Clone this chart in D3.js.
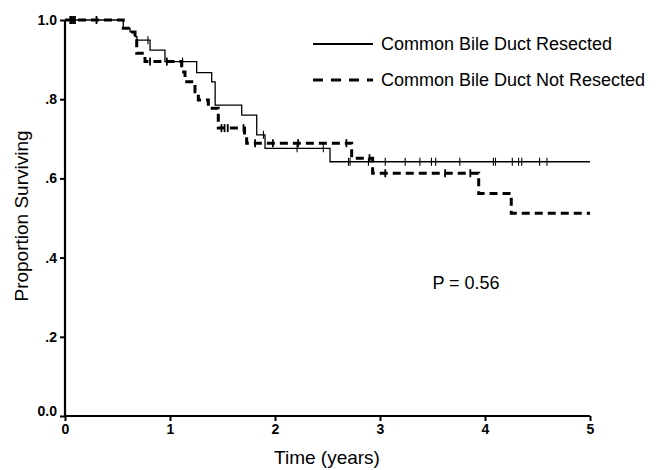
<!DOCTYPE html>
<html>
<head>
<meta charset="utf-8">
<script src="https://cdn.jsdelivr.net/npm/d3@7"></script>
<style>
  html, body { margin: 0; padding: 0; background: #fff; }
  svg { display: block; font-family: "Liberation Sans", Arial, sans-serif; }
</style>
</head>
<body>
<svg id="chart" width="670" height="470"></svg>
<script>
// Kaplan-Meier step data: time (years) at which survival changes, and the new value
const resectedTimes = [0, 0.555, 0.62, 0.667, 0.685, 0.81, 0.952, 1.254, 1.397, 1.43, 1.683, 1.826, 1.905, 2.524, 5.0];
const resectedSurv  = [1.0, 0.979, 0.970, 0.958, 0.949, 0.924, 0.895, 0.867, 0.844, 0.785, 0.760, 0.710, 0.676, 0.642, 0.642];
const resectedCensored = [0.06, 0.08, 0.79, 1.12, 1.89, 2.21, 2.46, 2.70, 2.715, 2.89, 3.05, 3.24, 3.38, 3.49, 3.53, 3.76, 4.08, 4.10, 4.26, 4.32, 4.35, 4.52, 4.59];

const notResectedTimes = [0, 0.555, 0.62, 0.667, 0.683, 0.762, 1.111, 1.143, 1.238, 1.27, 1.365, 1.46, 1.71, 1.73, 2.73, 2.93, 3.94, 4.25, 5.0];
const notResectedSurv  = [1.0, 0.979, 0.970, 0.958, 0.916, 0.895, 0.869, 0.844, 0.819, 0.798, 0.777, 0.727, 0.705, 0.689, 0.651, 0.613, 0.562, 0.512, 0.512];
const notResectedCensored = [0.05, 0.065, 0.08, 0.095, 0.3, 0.81, 0.97, 1.49, 1.52, 1.55, 1.70, 1.81, 1.98, 2.22, 2.68, 2.90, 3.05, 3.62, 3.86];

const xTicks = [0, 1, 2, 3, 4, 5];
const yTicks = [0, 0.2, 0.4, 0.6, 0.8, 1.0];
const yTickLabels = ["0.0", ".2", ".4", ".6", ".8", "1.0"];
const seriesNames = ["Common Bile Duct Resected", "Common Bile Duct Not Resected"];
const pValueText = "P = 0.56";

const svg = d3.select("#chart");
const x = d3.scaleLinear().domain([0, 5]).range([65, 590]);
const y = d3.scaleLinear().domain([0, 1]).range([416, 20]);

// survival value in effect at time t
function survAt(times, surv, t) {
  let v = surv[0];
  for (let i = 0; i < times.length; i++) if (times[i] <= t) v = surv[i];
  return v;
}

const line = d3.line().x(d => x(d[0])).y(d => y(d[1])).curve(d3.curveStepAfter);

const series = [
  { times: resectedTimes, surv: resectedSurv, cens: resectedCensored, width: 1.3, dash: null, legendDash: null, tickW: 1.1 },
  { times: notResectedTimes, surv: notResectedSurv, cens: notResectedCensored, width: 3, dash: "8,5", legendDash: "10,8", tickW: 1.8 }
];

// dashed series first so the thin line stays visible on top
series.slice().reverse().forEach(s => {
  const pts = s.times.map((t, i) => [t, s.surv[i]]);
  svg.append("path")
    .attr("d", line(pts))
    .attr("fill", "none")
    .attr("stroke", "#000")
    .attr("stroke-width", s.width)
    .attr("stroke-dasharray", s.dash);
  svg.append("g").selectAll("line")
    .data(s.cens)
    .join("line")
    .attr("x1", d => x(d)).attr("x2", d => x(d))
    .attr("y1", d => y(survAt(s.times, s.surv, d)) - 4)
    .attr("y2", d => y(survAt(s.times, s.surv, d)) + 4)
    .attr("stroke", "#000")
    .attr("stroke-width", s.tickW);
});

// axes
const yAxis = svg.append("g")
  .attr("transform", `translate(${x(0)},0)`)
  .call(d3.axisLeft(y).tickValues(yTicks).tickSize(5).tickPadding(3)
    .tickFormat((d, i) => yTickLabels[i]));
const xAxis = svg.append("g")
  .attr("transform", `translate(0,${y(0)})`)
  .call(d3.axisBottom(x).tickValues(xTicks).tickSize(5).tickPadding(3).tickFormat(d3.format("d")));

[yAxis, xAxis].forEach(g => {
  g.select(".domain").attr("stroke", "#000").attr("stroke-width", 2.2)
    .attr("d", g === yAxis ? `M0,${y(1)}V${y(0)}` : `M${x(0)},0H${x(5)}`);
  g.selectAll(".tick line").attr("stroke", "#000").attr("stroke-width", 2);
  g.selectAll(".tick text")
    .attr("fill", "#000")
    .style("font-family", "'Liberation Sans', Arial, sans-serif")
    .style("font-weight", "bold")
    .style("font-size", "14px");
});
// the origin label sits just above the x axis line
yAxis.selectAll(".tick").filter(d => d === 0).select("text").attr("y", -5);

// axis titles
svg.append("text")
  .attr("x", 327).attr("y", 464)
  .attr("text-anchor", "middle")
  .style("font-size", "19px")
  .text("Time (years)");
svg.append("text")
  .attr("transform", "translate(28,216) rotate(-90)")
  .attr("text-anchor", "middle")
  .style("font-size", "19px")
  .text("Proportion Surviving");

// legend
const legend = svg.append("g");
series.forEach((s, i) => {
  const ly = 44 + i * 36;
  legend.append("line")
    .attr("x1", 313).attr("x2", 373)
    .attr("y1", ly).attr("y2", ly)
    .attr("stroke", "#000")
    .attr("stroke-width", i === 0 ? 2 : 3.2)
    .attr("stroke-dasharray", s.legendDash);
  legend.append("text")
    .attr("x", 381).attr("y", ly + 6)
    .style("font-size", "18px")
    .text(seriesNames[i]);
});

// p-value annotation
svg.append("text")
  .attr("x", 466).attr("y", 289)
  .attr("text-anchor", "middle")
  .style("font-size", "18px")
  .text(pValueText);
</script>
</body>
</html>
